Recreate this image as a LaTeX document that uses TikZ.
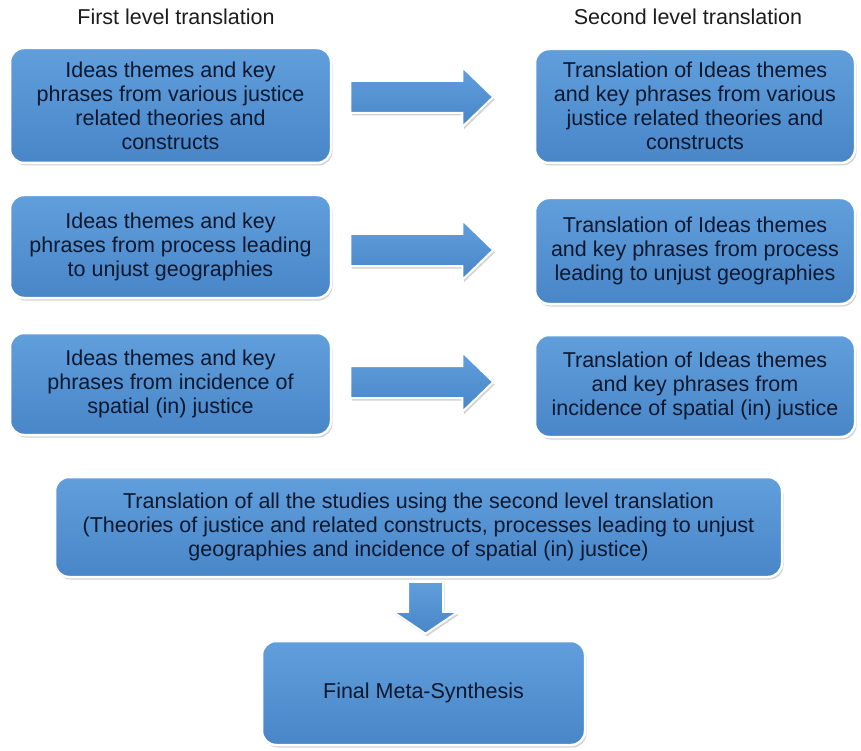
\documentclass[tikz,border=0pt]{standalone}
\usepackage{fontspec}
\setmainfont{Liberation Sans}
\usetikzlibrary{shadows,calc}
\definecolor{boxtop}{RGB}{96,158,220}
\definecolor{boxbot}{RGB}{72,134,200}
\definecolor{boxtext}{RGB}{12,24,46}
\definecolor{headtext}{RGB}{28,28,28}
\begin{document}
\begin{tikzpicture}[
    x=1pt, y=-1pt,
    box/.style={draw=white, line width=2.5pt, rounded corners=14pt,
        top color=boxtop, bottom color=boxbot, text=boxtext, align=center,
        font=\fontsize{21.5}{24}\selectfont,
        drop shadow={shadow xshift=1.5pt, shadow yshift=-2.5pt, opacity=0.35}},
    blockarrow/.style={draw=white, line width=2pt, line join=miter,
        top color=boxtop, bottom color=boxbot,
        drop shadow={shadow xshift=1.5pt, shadow yshift=-2.5pt, opacity=0.35}},
    head/.style={text=headtext, font=\fontsize{21.5}{24}\selectfont}
]
    \useasboundingbox (0,0) rectangle (861,751);

    % Column headings
    \node[head] (firsthead) at (176,17) {First level translation};
    \node[head] (secondhead) at (688,17) {Second level translation};

    % First level translation
    \node[box, minimum width=321, minimum height=115] (l1) at (170.5,105.5)
        {Ideas themes and key\\phrases from various justice\\related theories and\\constructs};
    \node[box, minimum width=321, minimum height=103] (l2) at (170.5,246.5)
        {Ideas themes and key\\phrases from process leading\\to unjust geographies};
    \node[box, minimum width=321, minimum height=102] (l3) at (170.5,384)
        {Ideas themes and key\\phrases from incidence of\\spatial (in) justice};

    % Second level translation
    \node[box, minimum width=320, minimum height=114] (r1) at (695,106)
        {Translation of Ideas themes\\and key phrases from various\\justice related theories and\\constructs};
    \node[box, minimum width=320, minimum height=106] (r2) at (695,251)
        {Translation of Ideas themes\\and key phrases from process\\leading to unjust geographies};
    \node[box, minimum width=320, minimum height=102] (r3) at (695,386)
        {Translation of Ideas themes\\and key phrases from\\incidence of spatial (in) justice};

    % Block arrows between the levels
    \foreach \a/\y in {l1/97, l2/250, l3/382}
        \draw[blockarrow] ($(\a.east |- 0,\y)+(18,-16)$) -- ++(112,0) -- ++(0,-14)
            -- ++(31,30) -- ++(-31,30) -- ++(0,-14) -- ++(-112,0) -- cycle;

    % Synthesis
    \node[box, minimum width=727, minimum height=100] (all) at (418.5,527)
        {Translation of all the studies using the second level translation\\(Theories of justice and related constructs, processes leading to unjust\\geographies and incidence of spatial (in) justice)};
    \node[box, minimum width=323, minimum height=104] (final) at (423.5,693)
        {Final Meta-Synthesis};

    \draw[blockarrow] ($(final.north)+(2,-6)$) -- ++(-32.5,-22) -- ++(15,0) -- ++(0,-30)
        -- ++(35,0) -- ++(0,30) -- ++(15,0) -- cycle;
\end{tikzpicture}
\end{document}
